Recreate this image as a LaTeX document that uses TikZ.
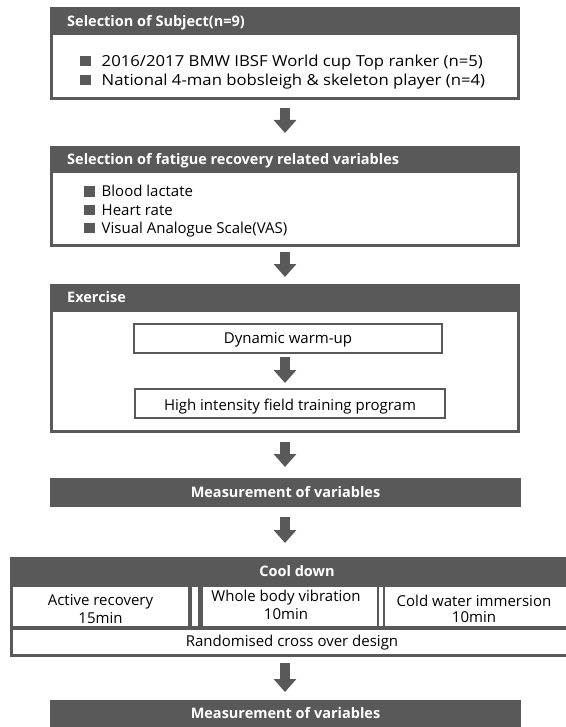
\documentclass[tikz,border=0pt]{standalone}
\usepackage{fontspec}
\setmainfont{Open Sans}
\newfontfamily\widefont{Open Sans}[FakeStretch=1.1]
\usetikzlibrary{arrows.meta}
\definecolor{dk}{RGB}{89,89,89}
\newcommand\bulsq{\textcolor{dk}{\rule{10.5pt}{10.5pt}}}
\tikzset{
  darkbg/.style={fill=dk, draw=none, inner sep=0pt, outer sep=0pt, anchor=north west},
  whitebg/.style={fill=white, draw=none, inner sep=0pt, outer sep=0pt, anchor=north west},
  framed/.style={fill=white, draw=dk, line width=2pt, inner sep=0pt, outer sep=0pt, anchor=north west},
  hdr/.style={text=white, font=\bfseries\fontsize{14.5}{17}\selectfont, inner sep=0pt},
  body/.style={text=black, font=\fontsize{15}{18}\selectfont, inner sep=0pt},
  bodywide/.style={text=black, font=\widefont\fontsize{15.2}{18}\selectfont, inner sep=0pt},
  fat/.style={line width=10pt, draw=dk, -{Triangle[width=22pt,length=13pt]}},
}
\begin{document}
\begin{tikzpicture}[x=1pt,y=-1pt]
\useasboundingbox[fill=white] (0,0) rectangle (565,727);

% Box 1
\node[darkbg, minimum width=470pt, minimum height=93pt] (b1) at (50,7) {};
\node[whitebg, minimum width=464pt, minimum height=62pt] (b1in) at (53,35) {};
\node[hdr, anchor=base west] (b1t) at (67,26.5) {Selection of Subject(n=9)};
\node[bodywide, anchor=base west] (b1a) at (80,66.5) {\bulsq\hspace{11pt}2016/2017 BMW IBSF World cup Top ranker (n=5)};
\node[bodywide, anchor=base west] (b1b) at (80,85.5) {\bulsq\hspace{11pt}National 4-man bobsleigh \& skeleton player (n=4)};

% Box 2
\node[darkbg, minimum width=470pt, minimum height=101pt] (b2) at (50,146) {};
\node[whitebg, minimum width=464pt, minimum height=71pt] (b2in) at (53,173) {};
\node[hdr, anchor=base west] (b2t) at (67,165) {Selection of fatigue recovery related variables};
\node[body, anchor=base west] (b2a) at (84,196.7) {\bulsq\hspace{7pt}Blood lactate};
\node[body, anchor=base west] (b2b) at (84,215) {\bulsq\hspace{7pt}Heart rate};
\node[body, anchor=base west] (b2c) at (84,233.3) {\bulsq\hspace{7pt}Visual Analogue Scale(VAS)};

% Box 3
\node[darkbg, minimum width=470pt, minimum height=149pt] (b3) at (50,284) {};
\node[whitebg, minimum width=464pt, minimum height=118pt] (b3in) at (53,312) {};
\node[hdr, anchor=base west] (b3t) at (67,302.5) {Exercise};
\node[framed, minimum width=308pt, minimum height=29pt] (dw) at (134,324) {};
\node[body, anchor=base] (dwt) at (dw.center |- 0,343) {Dynamic warm-up};
\node[framed, minimum width=310pt, minimum height=29pt] (hi) at (135,389) {};
\node[body, anchor=base] (hit) at (hi.center |- 0,410) {High intensity field training program};

% Measurement 1
\node[darkbg, minimum width=471pt, minimum height=29pt] (m1) at (50,478) {};
\node[hdr, anchor=base] (m1t) at (m1.center |- 0,497) {Measurement of variables};

% Cool down
\node[darkbg, minimum width=570pt, minimum height=100pt] (cd) at (10,557) {};
\node[hdr, anchor=base] (cdt) at (297,576) {Cool down};
\node[whitebg, minimum width=175pt, minimum height=39pt] (ar) at (13,587) {};
\node[whitebg, minimum width=6pt, minimum height=39pt] (s1) at (192,587) {};
\node[whitebg, minimum width=174pt, minimum height=39pt] (wb) at (203,587) {};
\node[whitebg, minimum width=4pt, minimum height=39pt] (s2) at (379,587) {};
\node[whitebg, minimum width=190pt, minimum height=39pt] (cw) at (385,587) {};
\node[whitebg, minimum width=562pt, minimum height=24pt] (rc) at (13,630) {};
\node[body, anchor=base] (art1) at (ar.center |- 0,605) {Active recovery};
\node[body, anchor=base] (art2) at (ar.center |- 0,623) {15min};
\node[body, anchor=base] (wbt1) at (286,601) {Whole body vibration};
\node[body, anchor=base] (wbt2) at (286,619) {10min};
\node[body, anchor=base] (cwt1) at (474,606) {Cold water immersion};
\node[body, anchor=base] (cwt2) at (474,622) {10min};
\node[body, anchor=base] (rct) at (292,646) {Randomised cross over design};

% Measurement 2
\node[darkbg, minimum width=471pt, minimum height=30pt] (m2) at (50,700) {};
\node[hdr, anchor=base] (m2t) at (m2.center |- 0,718) {Measurement of variables};

% Arrows
\coordinate (x) at (285,0);
\draw[fat, shorten <=8pt, shorten >=13pt] (b1.south -| x) -- (b2.north -| x);
\draw[fat, shorten <=5pt, shorten >=7pt] (b2.south -| x) -- (b3.north -| x);
\draw[fat, shorten <=4pt, shorten >=6pt] (dw.south -| x) -- (hi.north -| x);
\draw[fat, shorten <=9pt, shorten >=11pt] (b3.south -| x) -- (m1.north -| x);
\draw[fat, shorten <=10pt, shorten >=14pt] (m1.south -| x) -- (cd.north -| x);
\draw[fat, shorten <=6pt, shorten >=8pt] (cd.south -| x) -- (m2.north -| x);
\end{tikzpicture}
\end{document}
